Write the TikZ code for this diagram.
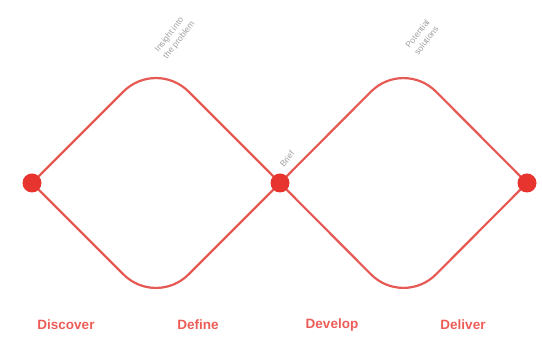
\documentclass[tikz,border=0pt]{standalone}
\usepackage{fontspec}
\setmainfont{Liberation Sans}
\usepackage{xcolor}
\usepackage{tikz}
\usetikzlibrary{positioning}
\definecolor{ddred}{HTML}{E8342E}
\definecolor{ddline}{HTML}{E65A55}
\definecolor{ddgrey}{HTML}{A0A0A0}
\tikzset{
  % --- stage dots and diamond outline ---------------------------------------
  stagedot/.style={circle,fill=ddred,inner sep=0pt,minimum size=19pt},
  wing/.style={ddline,line width=2.2pt,rounded corners=46pt},
  % --- texts ----------------------------------------------------------------
  phase/.style={font=\fontsize{13.5}{15}\selectfont\bfseries,text=ddred!80},
  note/.style={font=\fontsize{8.5}{11}\selectfont,text=ddgrey,align=left,
               rotate=52,inner sep=1pt,anchor=center},
}
\begin{document}
\begin{tikzpicture}[x=1pt, y=1pt]
  \useasboundingbox (0,0) rectangle (542,350);
  \def\cy{167}        % axis of both diamonds
  \def\hw{124}        % half width = half height

  \coordinate (dA) at (32,\cy);
  \coordinate (dB) at (280,\cy);
  \coordinate (dC) at (527,\cy);
  \coordinate (tA) at (156,\cy+\hw);
  \coordinate (bA) at (156,\cy-\hw);
  \coordinate (tB) at (403.5,\cy+\hw);
  \coordinate (bB) at (403.5,\cy-\hw);

  % each half drawn open, so only the top and bottom corners get rounded
  \draw[wing] (dA) -- (tA) -- (dB);
  \draw[wing] (dA) -- (bA) -- (dB);
  \draw[wing] (dB) -- (tB) -- (dC);
  \draw[wing] (dB) -- (bB) -- (dC);

  \foreach \d in {dA,dB,dC}{
    \node[stagedot] (\d dot) at (\d) {};
  }

  \node[note] (nA) at (175,313) {Insight into\\the problem};
  \node[note] (nB) at (287,191) {Brief};
  \node[note] (nC) at (422,313) {Potential\\solutions};

  \node[phase] (discover) at (66,25)  {Discover};
  \node[phase] (define)   at (198,25) {Define};
  \node[phase] (develop)  at (332,25) {Develop};
  \node[phase] (deliver)  at (463,25) {Deliver};
\end{tikzpicture}
\end{document}
